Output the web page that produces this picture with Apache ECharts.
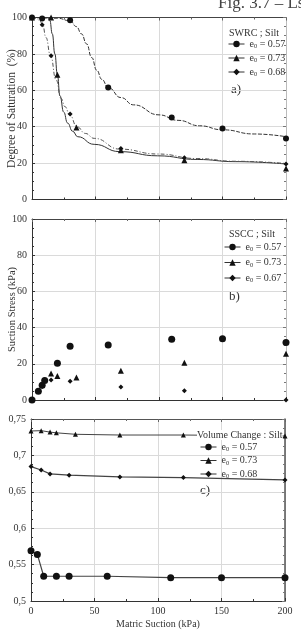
<!DOCTYPE html>
<html>
<head>
<meta charset="utf-8">
<script src="https://cdn.jsdelivr.net/npm/echarts@6/dist/echarts.min.js"></script>
<style>
  html, body { margin: 0; padding: 0; background: #fff; }
  #chart { width: 301px; height: 635px; }
</style>
</head>
<body>
<div id="chart"></div>
<script>
// a) SWRC ; Silt - measured points
const xSat057 = [0, 8, 30, 60, 110, 150, 200];
const ySat057 = [100, 99.5, 98.5, 61.5, 45, 39, 33.5];
const xSat073 = [0, 15, 20, 35, 70, 120, 200];
const ySat073 = [100, 100, 68.5, 39.5, 27, 21.5, 17];
const xSat068 = [0, 8, 15, 30, 70, 120, 200];
const ySat068 = [100, 96, 79, 47, 28, 23, 19.5];

// a) fitted curves
const xFit057 = [0, 20, 30, 35, 39, 43, 47, 51, 55, 60, 70, 80, 100, 115, 132, 150, 175, 200];
const yFit057 = [100, 99.6, 98.2, 95, 91, 85.5, 78, 71, 66, 61.5, 56, 52, 46.5, 43.5, 40.5, 38.3, 36, 34.5];
const xFit073 = [0, 12, 14, 16, 18, 20, 22, 25, 28, 32, 36, 49, 69, 99, 130, 160, 200];
const yFit073 = [100, 100, 98.5, 91, 80, 68.5, 57, 48, 42, 37.5, 34.5, 30.3, 26.3, 24, 22, 20.8, 19.5];
const xFit068 = [0, 3, 6, 8.4, 11, 14.5, 19, 22.8, 26, 29.7, 35.4, 42, 49, 69, 99, 130, 160, 200];
const yFit068 = [100, 99.6, 98.5, 96, 89, 79.4, 65.7, 55.6, 51, 46.5, 40, 36.3, 33.6, 27.7, 25, 22.5, 21, 19.8];

// b) SSCC ; Silt
const xSs057 = [0, 5, 8, 10, 20, 30, 60, 110, 150, 200];
const ySs057 = [0, 4.8, 8.2, 10.8, 20.3, 29.7, 30.4, 33.5, 33.9, 31.7];
const xSs073 = [15, 20, 35, 70, 120, 200];
const ySs073 = [14.7, 13.2, 12.5, 16.2, 20.6, 25.6];
const xSs067 = [8, 15, 30, 70, 120, 200];
const ySs067 = [7.5, 11, 10.3, 7.2, 5.1, 0];

// c) Volume change ; Silt
const xVr057 = [0, 5, 10, 20, 30, 60, 110, 150, 200];
const yVr057 = [0.569, 0.564, 0.534, 0.534, 0.534, 0.534, 0.532, 0.532, 0.532];
const xVr073 = [0, 8, 15, 20, 35, 70, 120, 200];
const yVr073 = [0.7335, 0.734, 0.732, 0.731, 0.729, 0.728, 0.728, 0.7267];
const xVr068 = [0, 8, 15, 30, 70, 120, 200];
const yVr068 = [0.6846, 0.680, 0.6746, 0.6728, 0.6704, 0.6695, 0.6663];

const legendText = {
  a057: "0.57", a073: "0.73", a068: "0.68",
  b057: "0.57", b073: "0.73", b067: "0.67",
  c057: "0.57", c073: "0.73", c068: "0.68",
};

const serif = "Liberation Serif";
const ink = "#333";
const gridColor = "#dadada";

const zip = (xs, ys) => xs.map((x, i) => [x, ys[i]]);

const chart = echarts.init(document.getElementById("chart"));

function xAxes(gi, showLabels) {
  return [
    {
      gridIndex: gi, type: "value", min: 0, max: 200, interval: 50, position: "bottom",
      axisLine: {show: true, onZero: false, lineStyle: {color: ink, width: 1}},
      axisTick: {show: true, inside: true, length: 3, lineStyle: {color: ink}},
      minorTick: {show: true, splitNumber: 2, length: 2, lineStyle: {color: ink}},
      splitLine: {show: true, lineStyle: {color: gridColor}},
      axisLabel: {show: showLabels, margin: 5, fontFamily: serif, fontSize: 10, color: ink},
      name: showLabels ? "Matric Suction (kPa)" : "",
      nameLocation: "middle", nameGap: 18, nameMoveOverlap: false,
      nameTextStyle: {fontFamily: serif, fontSize: 10, color: ink},
    },
    {
      gridIndex: gi, type: "value", min: 0, max: 200, interval: 50, position: "top",
      axisLine: {show: true, onZero: false, lineStyle: {color: gi === 2 ? "#555" : "#444"}},
      axisTick: {show: true, inside: true, length: 3, lineStyle: {color: "#666"}},
      minorTick: {show: true, splitNumber: 2, length: 2, lineStyle: {color: "#666"}},
      splitLine: {show: false},
      axisLabel: {show: false},
    },
  ];
}

function yAxes(gi, min, max, interval, name, nameGap, nameSize, fmt) {
  return [
    {
      gridIndex: gi, type: "value", min: min, max: max, interval: interval, position: "left",
      axisLine: {show: true, onZero: false, lineStyle: {color: ink}},
      axisTick: {show: true, inside: true, length: 3, lineStyle: {color: ink}},
      minorTick: {show: true, splitNumber: 4, length: 2, lineStyle: {color: ink}},
      splitLine: {show: true, lineStyle: {color: gridColor}},
      axisLabel: {margin: 5, fontFamily: serif, fontSize: 10, color: ink, formatter: fmt},
      name: name, nameLocation: "middle", nameGap: nameGap, nameMoveOverlap: false,
      nameTextStyle: {fontFamily: serif, fontSize: nameSize, color: ink},
    },
    {
      gridIndex: gi, type: "value", min: min, max: max, interval: interval, position: "right",
      axisLine: {show: true, onZero: false, lineStyle: {color: gi === 2 ? "#555" : "#bbb", width: gi === 2 ? 1.5 : 1}},
      axisTick: {show: true, inside: true, length: 3, lineStyle: {color: "#777"}},
      minorTick: {show: true, splitNumber: 4, length: 2, lineStyle: {color: "#777"}},
      splitLine: {show: false},
      axisLabel: {show: false},
    },
  ];
}

function markers(name, xi, yi, xs, ys, symbol, size) {
  return {
    name: name, type: "line", xAxisIndex: xi, yAxisIndex: yi,
    data: zip(xs, ys), symbol: symbol, symbolSize: size, showSymbol: true,
    lineStyle: {width: 0, opacity: 0}, itemStyle: {color: "#111"},
    z: 5, animation: false,
  };
}

function curve(xs, ys, type, color) {
  return {
    type: "line", xAxisIndex: 0, yAxisIndex: 0, data: zip(xs, ys),
    symbol: "none", smooth: 0.5, smoothMonotone: "x",
    lineStyle: {color: color, width: 1, type: type}, animation: false,
  };
}

function vrLine(name, xs, ys, symbol, size, width) {
  return {
    name: name, type: "line", xAxisIndex: 4, yAxisIndex: 4, data: zip(xs, ys),
    symbol: symbol, symbolSize: size,
    lineStyle: {color: "#444", width: width}, itemStyle: {color: "#111"},
    animation: false,
  };
}

function legend(names, left, top, gap) {
  return {
    data: names, orient: "vertical", left: left, top: top, padding: 0,
    itemWidth: 16, itemHeight: 8, itemGap: gap, selectedMode: false,
    lineStyle: {color: ink, width: 1, opacity: 1, type: "solid"},
    formatter: n => "{t|e}{s|0}{t| = " + legendText[n] + "}",
    textStyle: {
      color: ink,
      rich: {
        t: {fontFamily: serif, fontSize: 10, color: ink, lineHeight: 12},
        s: {fontFamily: serif, fontSize: 6.5, color: ink, lineHeight: 7, verticalAlign: "bottom"},
      },
    },
  };
}

function label(text, x, y, size) {
  return {
    type: "text", left: x, top: y, z: 100,
    style: {text: text, fontFamily: serif, fontSize: size, fill: ink, backgroundColor: "#fff"},
  };
}

const option = {
  backgroundColor: "#fff",
  animation: false,
  grid: [
    {left: 32, right: 15, top: 17.5, height: 182, outerBoundsMode: "none"},
    {left: 32, right: 15, top: 219, height: 181, outerBoundsMode: "none"},
    {left: 31, right: 16, top: 419, height: 182, outerBoundsMode: "none"},
  ],
  xAxis: [...xAxes(0, false), ...xAxes(1, false), ...xAxes(2, true)],
  yAxis: [
    ...yAxes(0, 0, 100, 20, "Degree of Saturation  (%)", 14, 11.5),
    ...yAxes(1, 0, 100, 20, "Suction Stress (kPa)", 14, 10.5),
    ...yAxes(2, 0.5, 0.75, 0.05, "Void Ratio", 31, 10.5, v => String(+v.toFixed(2)).replace(".", ",")),
  ],
  legend: [
    legend(["a057", "a073", "a068"], 228, 39, 3),
    legend(["b057", "b073", "b067"], 224, 242, 4.5),
    legend(["c057", "c073", "c068"], 200, 442, 2.5),
  ],
  graphic: [
    {type: "text", left: 218, top: -5, style: {text: "Fig. 3.7 \u2013 Ls", fontFamily: serif, fontSize: 17, fill: "#444"}},
    label("SWRC ; Silt", 229, 28, 10),
    {type: "text", left: 231, top: 83, style: {text: "a)", fontFamily: serif, fontSize: 13, fill: ink}},
    label("SSCC ; Silt", 229, 229, 10),
    {type: "text", left: 229, top: 290, style: {text: "b)", fontFamily: serif, fontSize: 13, fill: ink}},
    label("Volume Change : Silt", 197, 430, 10),
    {type: "text", left: 200, top: 484, style: {text: "c)", fontFamily: serif, fontSize: 13, fill: ink}},
  ],
  series: [
    curve(xFit057, yFit057, [4, 1.5], "#333"),
    curve(xFit073, yFit073, "solid", "#333"),
    curve(xFit068, yFit068, [4, 2, 1, 2], "#555"),
    markers("a057", 0, 0, xSat057, ySat057, "circle", 6),
    markers("a073", 0, 0, xSat073, ySat073, "triangle", 6),
    markers("a068", 0, 0, xSat068, ySat068, "diamond", 5),
    markers("b057", 2, 2, xSs057, ySs057, "circle", 7),
    markers("b073", 2, 2, xSs073, ySs073, "triangle", 6),
    markers("b067", 2, 2, xSs067, ySs067, "diamond", 5),
    vrLine("c057", xVr057, yVr057, "circle", 7, 1.2),
    vrLine("c073", xVr073, yVr073, "triangle", 5, 1),
    vrLine("c068", xVr068, yVr068, "diamond", 5, 1.2),
  ],
};

chart.setOption(option);
</script>
</body>
</html>
